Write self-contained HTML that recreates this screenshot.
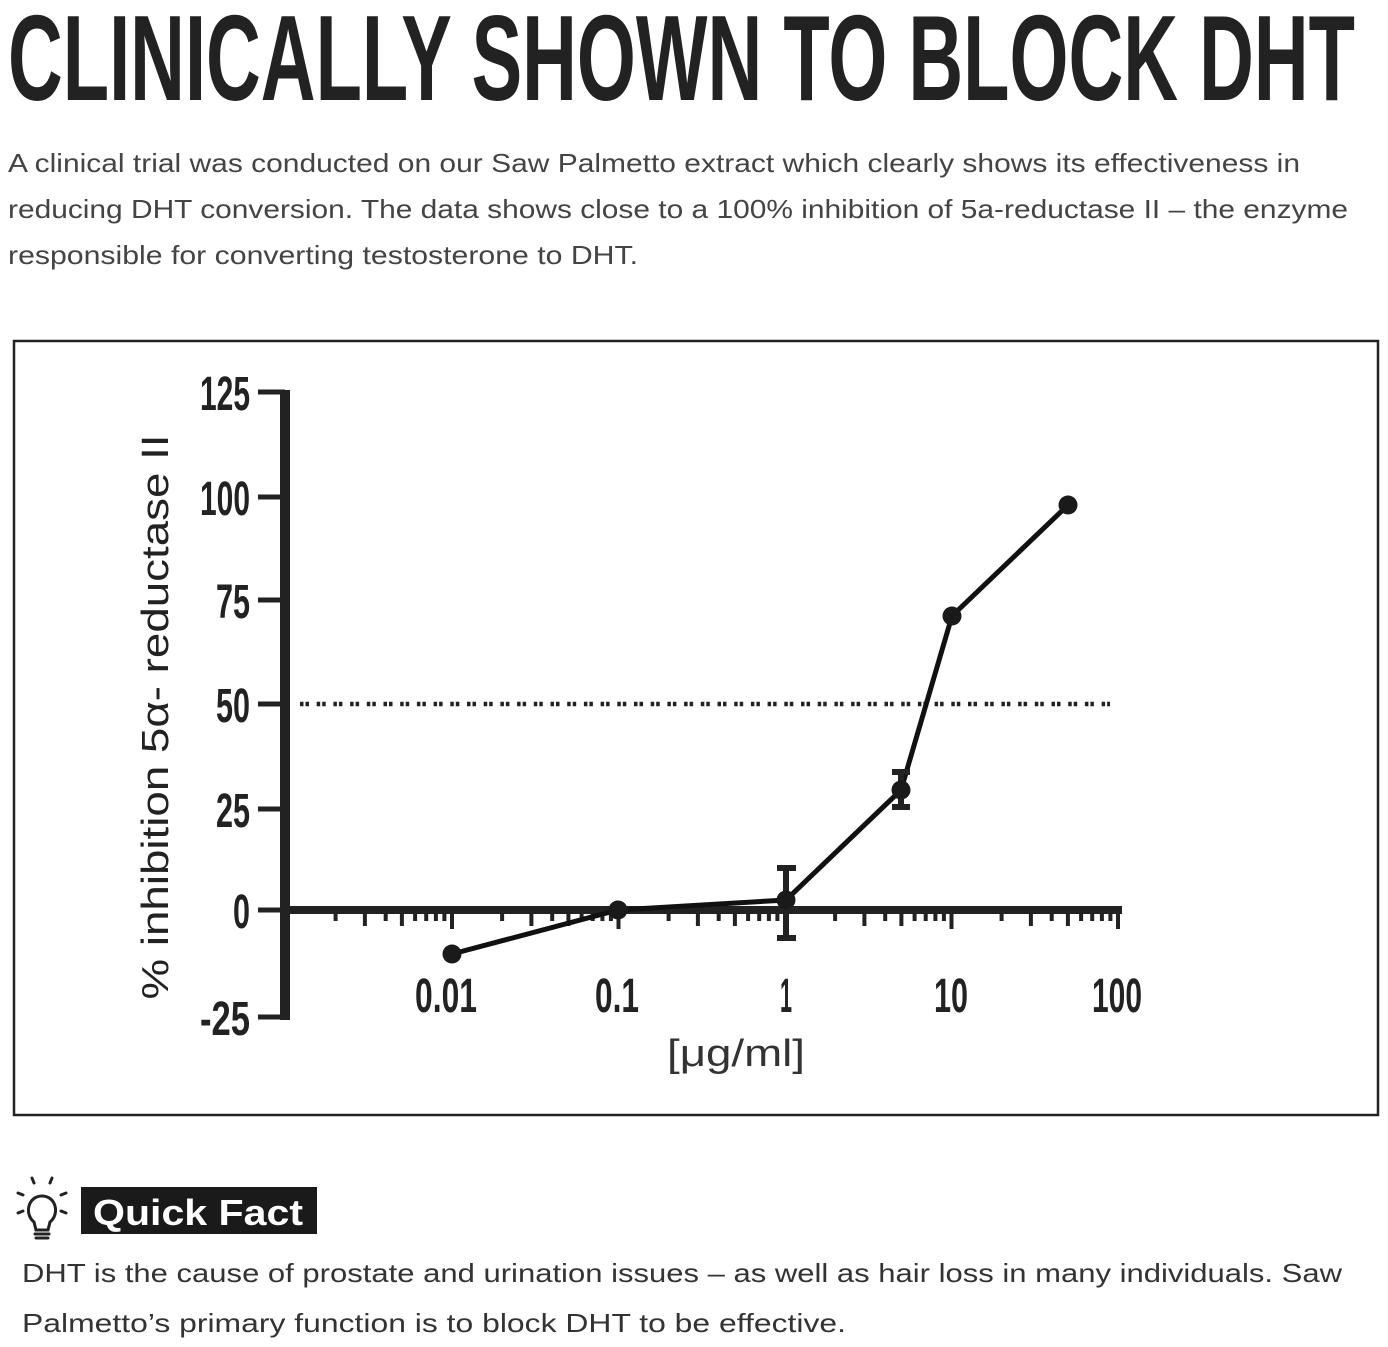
<!DOCTYPE html>
<html><head><meta charset="utf-8"><style>
html,body{margin:0;padding:0;background:#fff;}
svg{display:block;}
</style></head><body>
<svg width="1388" height="1347" viewBox="0 0 1388 1347" xmlns="http://www.w3.org/2000/svg">
<rect width="1388" height="1347" fill="#fff"/>
<text x="8" y="100" font-family="Liberation Sans, sans-serif" font-weight="bold" font-size="122" fill="#222" textLength="1347" lengthAdjust="spacingAndGlyphs">CLINICALLY SHOWN TO BLOCK DHT</text>
<g font-family="Liberation Sans, sans-serif" font-size="26" fill="#444">
<text x="8" y="172" textLength="1292" lengthAdjust="spacingAndGlyphs">A clinical trial was conducted on our Saw Palmetto extract which clearly shows its effectiveness in</text>
<text x="8" y="218" textLength="1340" lengthAdjust="spacingAndGlyphs">reducing DHT conversion. The data shows close to a 100% inhibition of 5a-reductase II – the enzyme</text>
<text x="8" y="264" textLength="630" lengthAdjust="spacingAndGlyphs">responsible for converting testosterone to DHT.</text>
</g>
<rect x="14" y="341" width="1364" height="774" fill="none" stroke="#222" stroke-width="2.5"/>
<!-- y axis -->
<rect x="280" y="390" width="10" height="630" fill="#222"/>
<g stroke="#222" stroke-width="5">
<line x1="258" y1="392" x2="285" y2="392"/>
<line x1="258" y1="497" x2="285" y2="497"/>
<line x1="258" y1="600" x2="285" y2="600"/>
<line x1="258" y1="704" x2="285" y2="704"/>
<line x1="258" y1="809" x2="285" y2="809"/>
<line x1="258" y1="910" x2="285" y2="910"/>
<line x1="258" y1="1017" x2="285" y2="1017"/>
</g>
<g font-family="Liberation Sans, sans-serif" font-weight="bold" font-size="48" fill="#222" text-anchor="end">
<text x="250" y="410" textLength="50" lengthAdjust="spacingAndGlyphs">125</text>
<text x="250" y="515" textLength="50" lengthAdjust="spacingAndGlyphs">100</text>
<text x="250" y="618" textLength="34" lengthAdjust="spacingAndGlyphs">75</text>
<text x="250" y="722" textLength="34" lengthAdjust="spacingAndGlyphs">50</text>
<text x="250" y="827" textLength="34" lengthAdjust="spacingAndGlyphs">25</text>
<text x="250" y="928" textLength="17" lengthAdjust="spacingAndGlyphs">0</text>
<text x="250" y="1035" textLength="50" lengthAdjust="spacingAndGlyphs">-25</text>
</g>
<!-- x axis -->
<rect x="285" y="906" width="837" height="8" fill="#222"/>
<g stroke="#222" stroke-width="4">
<path d="M335.6 912v9M364.9 912v14M385.7 912v9M401.9 912v14M415.1 912v9M426.2 912v9M435.9 912v9M444.4 912v9M452 912v17
M502.1 912v9M531.4 912v14M552.2 912v9M568.4 912v14M581.6 912v9M592.7 912v9M602.4 912v9M610.9 912v9M618.5 912v17
M668.6 912v9M697.9 912v14M718.7 912v9M734.9 912v14M748.1 912v9M759.2 912v9M768.9 912v9M777.4 912v9M785 912v17
M835.1 912v9M864.4 912v14M885.2 912v9M901.4 912v14M914.6 912v9M925.7 912v9M935.4 912v9M943.9 912v9M951.5 912v17
M1001.6 912v9M1030.9 912v14M1051.7 912v9M1067.9 912v14M1081.1 912v9M1092.2 912v9M1101.9 912v9M1110.4 912v9M1118 912v17"/>
</g>
<g font-family="Liberation Sans, sans-serif" font-weight="bold" font-size="48" fill="#222" text-anchor="middle">
<text x="446" y="1012" textLength="62" lengthAdjust="spacingAndGlyphs">0.01</text>
<text x="617" y="1012" textLength="44" lengthAdjust="spacingAndGlyphs">0.1</text>
<text x="786" y="1012" textLength="12" lengthAdjust="spacingAndGlyphs">1</text>
<text x="951" y="1012" textLength="34" lengthAdjust="spacingAndGlyphs">10</text>
<text x="1117" y="1012" textLength="50" lengthAdjust="spacingAndGlyphs">100</text>
</g>
<text x="736" y="1066" font-family="Liberation Sans, sans-serif" font-size="38" fill="#333" text-anchor="middle" textLength="138" lengthAdjust="spacingAndGlyphs">[μg/ml]</text>
<text transform="translate(168,717) rotate(-90)" font-family="Liberation Sans, sans-serif" font-size="38" fill="#222" text-anchor="middle" textLength="565" lengthAdjust="spacingAndGlyphs">% inhibition 5α- reductase II</text>
<!-- 50% line -->
<line x1="300" y1="704" x2="1110" y2="704" stroke="#222" stroke-width="4.5" stroke-dasharray="3.5 2 3.5 7.7"/>
<!-- series -->
<polyline points="452,954 618,910 786,900 901,790 952,616 1068,505" fill="none" stroke="#111" stroke-width="5"/>
<g stroke="#222" stroke-width="6">
<line x1="786" y1="868" x2="786" y2="938"/><line x1="777" y1="868" x2="796" y2="868"/><line x1="777" y1="938" x2="796" y2="938"/>
<line x1="901" y1="772" x2="901" y2="807"/><line x1="892" y1="772" x2="910" y2="772"/><line x1="892" y1="807" x2="910" y2="807"/>
</g>
<g fill="#1a1a1a">
<circle cx="452" cy="954" r="9.5"/><circle cx="618" cy="910" r="9.5"/><circle cx="786" cy="900" r="9.5"/>
<circle cx="901" cy="790" r="9.5"/><circle cx="952" cy="616" r="9.5"/><circle cx="1068" cy="505" r="9.5"/>
</g>
<!-- quick fact -->
<g stroke="#222" stroke-width="3" fill="none" stroke-linecap="round">
<path d="M34 1222 C24 1214 28 1196 42 1196 C56 1196 60 1214 50 1222 L48 1230 L36 1230 Z"/>
<path d="M35 1234 L49 1234 M36 1238 L48 1238"/>
<path d="M32 1178 L34 1183 M52 1178 L50 1183 M18 1193 L23 1195 M66 1193 L61 1195 M18 1213 L23 1211 M66 1213 L61 1211"/>
</g>
<rect x="81" y="1187" width="236" height="47" fill="#1a1a1a"/>
<text x="93" y="1225" font-family="Liberation Sans, sans-serif" font-weight="bold" font-size="36" fill="#fff" textLength="210" lengthAdjust="spacingAndGlyphs">Quick Fact</text>
<g font-family="Liberation Sans, sans-serif" font-size="26" fill="#333">
<text x="22" y="1282" textLength="1320" lengthAdjust="spacingAndGlyphs">DHT is the cause of prostate and urination issues – as well as hair loss in many individuals. Saw</text>
<text x="22" y="1332" textLength="824" lengthAdjust="spacingAndGlyphs">Palmetto’s primary function is to block DHT to be effective.</text>
</g>
</svg>
</body></html>
